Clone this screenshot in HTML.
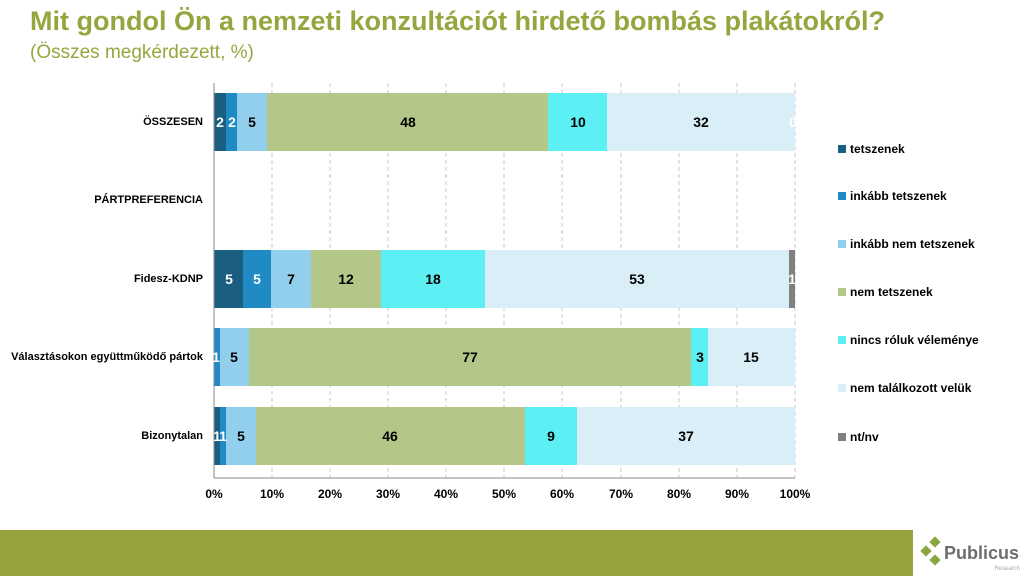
<!DOCTYPE html>
<html><head><meta charset="utf-8"><style>
body{margin:0;width:1024px;height:576px;background:#fff;font-family:"Liberation Sans",sans-serif;overflow:hidden;position:relative}
.t{position:absolute;white-space:nowrap}
</style></head><body>
<div class="t" style="left:30px;top:6px;font-size:27px;font-weight:bold;color:#97a53f">Mit gondol Ön a nemzeti konzultációt hirdető bombás plakátokról?</div>
<div class="t" style="left:30px;top:42px;font-size:19px;color:#97a53f">(Összes megkérdezett, %)</div>
<svg width="1024" height="576" style="position:absolute;left:0;top:0" font-family="Liberation Sans, sans-serif" font-weight="bold">
<g stroke="#c8c8c8" stroke-dasharray="4,3">
<line x1="272" y1="83" x2="272" y2="478"/><line x1="330" y1="83" x2="330" y2="478"/><line x1="388" y1="83" x2="388" y2="478"/><line x1="446" y1="83" x2="446" y2="478"/><line x1="504" y1="83" x2="504" y2="478"/><line x1="562" y1="83" x2="562" y2="478"/><line x1="621" y1="83" x2="621" y2="478"/><line x1="679" y1="83" x2="679" y2="478"/><line x1="737" y1="83" x2="737" y2="478"/><line x1="795" y1="83" x2="795" y2="478"/>
</g>
<!-- row1 -->
<rect x="214" y="93" width="12" height="58" fill="#1a5e80"/><rect x="226" y="93" width="11" height="58" fill="#1f8ac4"/><rect x="237" y="93" width="30" height="58" fill="#92cfec"/><rect x="267" y="93" width="281" height="58" fill="#b3c888"/><rect x="548" y="93" width="59" height="58" fill="#5cf0f4"/><rect x="607" y="93" width="188" height="58" fill="#daeef8"/>
<!-- row3 -->
<rect x="214" y="250" width="29" height="58" fill="#1a5e80"/><rect x="243" y="250" width="28" height="58" fill="#1f8ac4"/><rect x="271" y="250" width="40" height="58" fill="#92cfec"/><rect x="311" y="250" width="70" height="58" fill="#b3c888"/><rect x="381" y="250" width="104" height="58" fill="#5cf0f4"/><rect x="485" y="250" width="304" height="58" fill="#daeef8"/><rect x="789" y="250" width="6" height="58" fill="#808080"/>
<!-- row4 -->
<rect x="214" y="328" width="6" height="58" fill="#1f8ac4"/><rect x="220" y="328" width="29" height="58" fill="#92cfec"/><rect x="249" y="328" width="442" height="58" fill="#b3c888"/><rect x="691" y="328" width="17" height="58" fill="#5cf0f4"/><rect x="708" y="328" width="87" height="58" fill="#daeef8"/>
<!-- row5 -->
<rect x="214" y="407" width="6" height="58" fill="#1a5e80"/><rect x="220" y="407" width="6" height="58" fill="#1f8ac4"/><rect x="226" y="407" width="30" height="58" fill="#92cfec"/><rect x="256" y="407" width="269" height="58" fill="#b3c888"/><rect x="525" y="407" width="52" height="58" fill="#5cf0f4"/><rect x="577" y="407" width="218" height="58" fill="#daeef8"/>
<line x1="214" y1="83" x2="214" y2="478" stroke="#888"/>
<line x1="214" y1="478" x2="795" y2="478" stroke="#888"/>
<g font-size="14" text-anchor="middle" dominant-baseline="central">
<text x="220" y="122" fill="#fff">2</text><text x="232" y="122" fill="#fff">2</text><text x="252" y="122">5</text><text x="408" y="122">48</text><text x="578" y="122">10</text><text x="701" y="122">32</text><text x="793" y="122" fill="#fff">0</text>
<text x="229" y="279" fill="#fff">5</text><text x="257" y="279" fill="#fff">5</text><text x="291" y="279">7</text><text x="346" y="279">12</text><text x="433" y="279">18</text><text x="637" y="279">53</text><text x="792" y="279" fill="#fff">1</text>
<text x="216" y="357" fill="#fff">1</text><text x="234" y="357">5</text><text x="470" y="357">77</text><text x="700" y="357">3</text><text x="751" y="357">15</text>
<text x="217" y="436" fill="#fff">1</text><text x="223" y="436" fill="#fff">1</text><text x="241" y="436">5</text><text x="390" y="436">46</text><text x="551" y="436">9</text><text x="686" y="436">37</text>
</g>
<g font-size="11" text-anchor="end" dominant-baseline="central">
<text x="203" y="122">ÖSSZESEN</text><text x="203" y="200">PÁRTPREFERENCIA</text><text x="203" y="279">Fidesz-KDNP</text><text x="203" y="357">Választásokon együttműködő pártok</text><text x="203" y="436">Bizonytalan</text>
</g>
<g font-size="12" text-anchor="middle">
<text x="214" y="498">0%</text><text x="272" y="498">10%</text><text x="330" y="498">20%</text><text x="388" y="498">30%</text><text x="446" y="498">40%</text><text x="504" y="498">50%</text><text x="562" y="498">60%</text><text x="621" y="498">70%</text><text x="679" y="498">80%</text><text x="737" y="498">90%</text><text x="795" y="498">100%</text>
</g>
<g font-size="12" dominant-baseline="central">
<rect x="838" y="145" width="8" height="8" fill="#1a5e80"/><text x="850" y="149">tetszenek</text>
<rect x="838" y="192" width="8" height="8" fill="#1f8ac4"/><text x="850" y="196">inkább tetszenek</text>
<rect x="838" y="240" width="8" height="8" fill="#92cfec"/><text x="850" y="244">inkább nem tetszenek</text>
<rect x="838" y="288" width="8" height="8" fill="#b3c888"/><text x="850" y="292">nem tetszenek</text>
<rect x="838" y="336" width="8" height="8" fill="#5cf0f4"/><text x="850" y="340">nincs róluk véleménye</text>
<rect x="838" y="384" width="8" height="8" fill="#daeef8"/><text x="850" y="388">nem találkozott velük</text>
<rect x="838" y="433" width="8" height="8" fill="#808080"/><text x="850" y="437">nt/nv</text>
</g>
<rect x="0" y="530" width="913" height="46" fill="#97a33d"/>
<g fill="#8aa640">
<rect x="922" y="547" width="8" height="8" transform="rotate(45 926 551)"/><rect x="931" y="538" width="8" height="8" transform="rotate(45 935 542)"/><rect x="931" y="556" width="8" height="8" transform="rotate(45 935 560)"/>
</g>
<text x="944" y="559" font-size="18" fill="#6d6e70">Publicus</text>
<text x="1020" y="570" font-size="6" fill="#aaa" text-anchor="end" font-weight="normal">Research</text>
</svg>
</body></html>
